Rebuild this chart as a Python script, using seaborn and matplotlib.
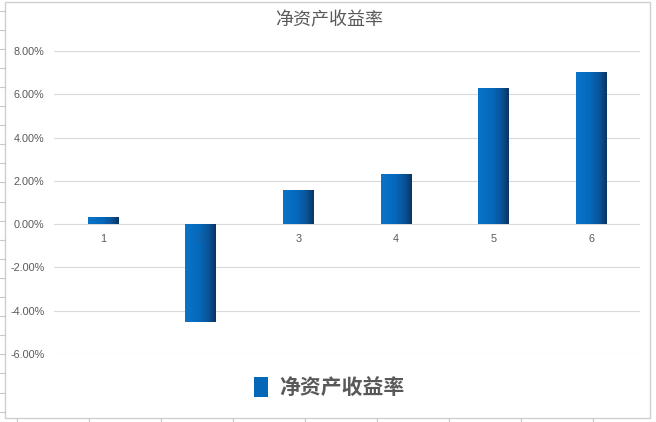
import matplotlib
matplotlib.use('Agg')
import matplotlib.pyplot as plt
import numpy as np
import pandas as pd
import seaborn as sns
from matplotlib.colors import LinearSegmentedColormap
from matplotlib.patches import Patch, Rectangle
from matplotlib.lines import Line2D
from matplotlib.ticker import FuncFormatter

periods = ['1', '2', '3', '4', '5', '6']
roe = [0.0032, -0.0453, 0.0157, 0.0231, 0.0630, 0.0704]
y_ticks = [-0.06, -0.04, -0.02, 0.0, 0.02, 0.04, 0.06, 0.08]
title = '净资产收益率'

df = pd.DataFrame({'期': periods, '净资产收益率': roe})

sns.set_theme(style='white')
plt.rcParams['font.family'] = ['Liberation Sans', 'Noto Sans CJK SC', 'DejaVu Sans']
grey = '#595959'

fig = plt.figure(figsize=(6.56, 4.22), dpi=100)
ax = fig.add_axes([54 / 656, 1 - 354 / 422, 586 / 656, 303 / 422])

sns.barplot(data=df, x='期', y='净资产收益率', color='#0567b8', width=0.31, ax=ax)

ax.set_ylim(-0.06, 0.08)
ax.set_yticks(y_ticks)
ax.yaxis.set_major_formatter(FuncFormatter(lambda v, p: f'{v * 100:.2f}%'))
ax.grid(axis='y', color='#d9d9d9', linewidth=0.8)
ax.set_axisbelow(True)
for s in ax.spines.values():
    s.set_visible(False)
ax.set_xlabel('')
ax.set_ylabel('')
ax.tick_params(axis='y', length=0, labelsize=7.8, labelcolor=grey, pad=7)
ax.tick_params(axis='x', length=0, labelbottom=False)

# category labels sit just under the zero line (the one on bar 2 is half hidden)
for i, lab in enumerate(periods):
    ax.text(i, -0.0069, lab, ha='center', va='center', fontsize=7.8,
            color=grey, alpha=0.35 if roe[i] < 0 else 1, zorder=4)

# horizontal gradient on bars
cmap = LinearSegmentedColormap.from_list(
    'bar', [(0, '#0a74c9'), (0.45, '#0569bb'), (0.75, '#09549a'), (1, '#0a3563')])
grad = np.linspace(0, 1, 64).reshape(1, -1)
for bar in ax.patches:
    x0, y0 = bar.get_x(), bar.get_y()
    w, h = bar.get_width(), bar.get_height()
    im = ax.imshow(grad, cmap=cmap, aspect='auto', zorder=3,
                   extent=[x0, x0 + w, min(y0, y0 + h), max(y0, y0 + h)])
    im.set_clip_path(bar)
    bar.set_edgecolor('none')
ax.set_xlim(-0.5, 5.5)
ax.set_ylim(-0.06, 0.08)

fig.text(329 / 656, 1 - 20 / 422, title, ha='center', va='center',
         fontsize=13, color=grey, family=['Noto Sans CJK SC', 'DejaVu Sans'])

handle = Patch(facecolor='#0567b8', edgecolor='none')
leg = fig.legend([handle], [title], loc='center', bbox_to_anchor=(329 / 656, 1 - 388 / 422),
                 frameon=False, handlelength=0.7, handleheight=1.1, handletextpad=0.5,
                 prop={'family': ['Noto Sans CJK SC', 'DejaVu Sans'], 'size': 15, 'weight': 'bold'})
for t in leg.get_texts():
    t.set_color(grey)

# chart frame and spreadsheet grid marks behind it
fig.add_artist(Rectangle((5 / 656, 1 - 418 / 422), 645 / 656, 416 / 422,
                         transform=fig.transFigure, fill=False, edgecolor='#d0d0d0', linewidth=1))
for yy in np.arange(10.5, 418, 19.1):
    fig.add_artist(Line2D([0, 5 / 656], [1 - yy / 422] * 2, color='#c8c8c8', linewidth=0.8))
for xx in np.arange(17, 656, 72):
    fig.add_artist(Line2D([xx / 656] * 2, [0, 4 / 422], color='#c8c8c8', linewidth=0.8))

fig.savefig('out.png', dpi=100)
